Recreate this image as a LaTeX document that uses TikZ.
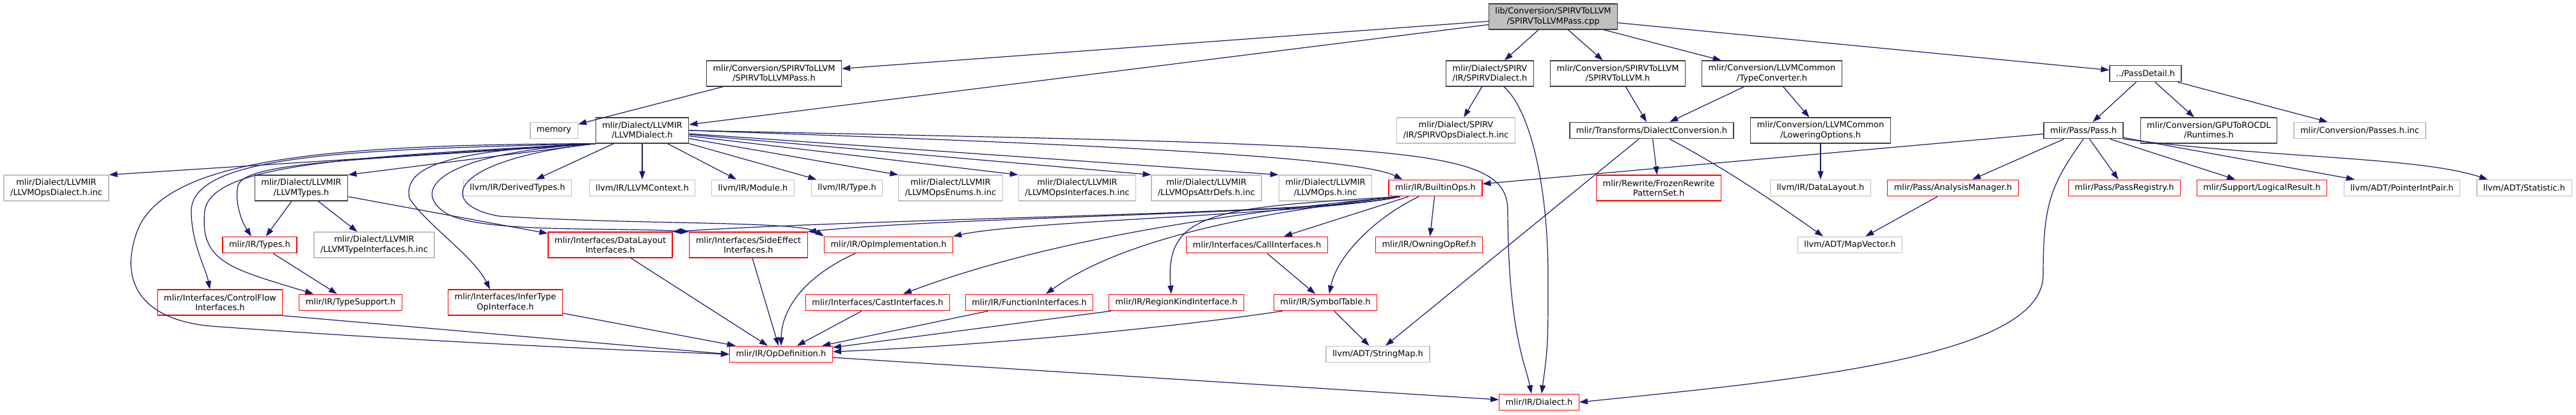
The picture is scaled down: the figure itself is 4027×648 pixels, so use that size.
\documentclass[tikz,border=0pt]{standalone}
\usepackage{fontspec}
\setmainfont{DejaVu Sans}
\usetikzlibrary{arrows.meta, positioning}

\definecolor{edgeblue}{HTML}{191970}
\definecolor{boxgray}{HTML}{BFBFBF}
\definecolor{boxdark}{HTML}{404040}

\begin{document}
\begin{tikzpicture}[x=1pt, y=-1pt,
    box/.style={draw, line width=1.3pt, fill=white, inner xsep=10pt, inner ysep=2pt,
      minimum height=25.5pt, align=center, font=\fontsize{13}{15.3}\selectfont},
    two/.style={minimum height=40pt},
    cur/.style={box, draw=boxdark, fill=boxgray},
    doc/.style={box, draw=boxdark},
    trunc/.style={box, draw=red},
    ext/.style={box, draw=boxgray},
    dep/.style={draw=edgeblue, line width=1.2pt, -{Triangle[length=13pt,width=9pt]}}]
	\useasboundingbox (0,0) rectangle (4027,648);

	% row 1 and 2
	\node[cur,two] (root) at (2428,26) {lib/Conversion/SPIRVToLLVM\\/SPIRVToLLVMPass.cpp};
	\node[doc,two] (passh) at (1210,115) {mlir/Conversion/SPIRVToLLVM\\/SPIRVToLLVMPass.h};
	\node[doc,two] (spirvd) at (2329,115) {mlir/Dialect/SPIRV\\/IR/SPIRVDialect.h};
	\node[doc,two] (s2l) at (2529,115) {mlir/Conversion/SPIRVToLLVM\\/SPIRVToLLVM.h};
	\node[doc,two] (typeconv) at (2770,115) {mlir/Conversion/LLVMCommon\\/TypeConverter.h};
	\node[doc] (passdetail) at (3354,115) {../PassDetail.h};

	% row 3
	\node[ext] (memory) at (866,204) {memory};
	\node[doc,two] (llvmd) at (1004,204) {mlir/Dialect/LLVMIR\\/LLVMDialect.h};
	\node[ext,two] (spirvops) at (2276,204) {mlir/Dialect/SPIRV\\/IR/SPIRVOpsDialect.h.inc};
	\node[doc] (dconv) at (2582,204) {mlir/Transforms/DialectConversion.h};
	\node[doc,two] (lowering) at (2846,204) {mlir/Conversion/LLVMCommon\\/LoweringOptions.h};
	\node[doc] (pass) at (3257,204) {mlir/Pass/Pass.h};
	\node[doc,two] (runtimes) at (3453,204) {mlir/Conversion/GPUToROCDL\\/Runtimes.h};
	\node[ext] (passesinc) at (3689,204) {mlir/Conversion/Passes.h.inc};

	% row 4
	\node[ext,two] (opsdialect) at (88,294) {mlir/Dialect/LLVMIR\\/LLVMOpsDialect.h.inc};
	\node[doc,two] (lltypes) at (471,294) {mlir/Dialect/LLVMIR\\/LLVMTypes.h};
	\node[ext] (derived) at (809,294) {llvm/IR/DerivedTypes.h};
	\node[ext] (context) at (1004,294) {llvm/IR/LLVMContext.h};
	\node[ext] (module) at (1177,294) {llvm/IR/Module.h};
	\node[ext] (irtype) at (1324,294) {llvm/IR/Type.h};
	\node[ext,two] (opsenums) at (1486,294) {mlir/Dialect/LLVMIR\\/LLVMOpsEnums.h.inc};
	\node[ext,two] (opsifaces) at (1684,294) {mlir/Dialect/LLVMIR\\/LLVMOpsInterfaces.h.inc};
	\node[ext,two] (opsattr) at (1886,294) {mlir/Dialect/LLVMIR\\/LLVMOpsAttrDefs.h.inc};
	\node[ext,two] (opsinc) at (2072,294) {mlir/Dialect/LLVMIR\\/LLVMOps.h.inc};
	\node[trunc] (builtin) at (2244,294) {mlir/IR/BuiltinOps.h};
	\node[trunc,two] (frozen) at (2593,294) {mlir/Rewrite/FrozenRewrite\\PatternSet.h};
	\node[ext] (layout) at (2846,294) {llvm/IR/DataLayout.h};
	\node[trunc] (analysis) at (3053,294) {mlir/Pass/AnalysisManager.h};
	\node[trunc] (registry) at (3321,294) {mlir/Pass/PassRegistry.h};
	\node[trunc] (logical) at (3536,294) {mlir/Support/LogicalResult.h};
	\node[ext] (ptrint) at (3755,294) {llvm/ADT/PointerIntPair.h};
	\node[ext] (statistic) at (3946,294) {llvm/ADT/Statistic.h};

	% row 5
	\node[trunc] (types) at (406,383) {mlir/IR/Types.h};
	\node[ext,two] (typeifaces) at (585,383) {mlir/Dialect/LLVMIR\\/LLVMTypeInterfaces.h.inc};
	\node[trunc,two] (dlifaces) at (954,383) {mlir/Interfaces/DataLayout\\Interfaces.h};
	\node[trunc,two] (sideeffect) at (1170,383) {mlir/Interfaces/SideEffect\\Interfaces.h};
	\node[trunc] (opimpl) at (1389,383) {mlir/IR/OpImplementation.h};
	\node[trunc] (callifaces) at (1965,383) {mlir/Interfaces/CallInterfaces.h};
	\node[trunc] (owning) at (2234,383) {mlir/IR/OwningOpRef.h};
	\node[ext] (mapvec) at (2892,383) {llvm/ADT/MapVector.h};

	% row 6 to 8
	\node[trunc,two] (cflow) at (344,473) {mlir/Interfaces/ControlFlow\\Interfaces.h};
	\node[trunc] (typesupport) at (548,473) {mlir/IR/TypeSupport.h};
	\node[trunc,two] (infer) at (790,473) {mlir/Interfaces/InferType\\OpInterface.h};
	\node[trunc] (cast) at (1372,473) {mlir/Interfaces/CastInterfaces.h};
	\node[trunc] (funcifaces) at (1609,473) {mlir/IR/FunctionInterfaces.h};
	\node[trunc] (regionkind) at (1839,473) {mlir/IR/RegionKindInterface.h};
	\node[trunc] (symtab) at (2072,473) {mlir/IR/SymbolTable.h};
	\node[trunc] (opdef) at (1221,554) {mlir/IR/OpDefinition.h};
	\node[ext] (stringmap) at (2154,554) {llvm/ADT/StringMap.h};
	\node[trunc] (dialect) at (2406,629) {mlir/IR/Dialect.h};

	% includes of the .cpp
	\draw[dep] (root) -- (passh);
	\draw[dep] (root) -- (llvmd);
	\draw[dep] (root) -- (spirvd);
	\draw[dep] (root) -- (s2l);
	\draw[dep] (root) -- (typeconv);
	\draw[dep] (root) -- (passdetail);
	\draw[dep] (passh) -- (memory);

	% LLVMDialect.h
	\draw[dep] (llvmd.south west) -- (opsdialect.north east);
	\draw[dep] (llvmd.south west) -- (lltypes.north east);
	\draw[dep] (llvmd) -- (derived);
	\draw[dep] (llvmd) -- (context);
	\draw[dep] (llvmd) -- (module);
	\draw[dep] (llvmd) -- (irtype);
	\draw[dep] (llvmd) -- (opsenums.north west);
	\draw[dep] (llvmd) -- (opsifaces.north west);
	\draw[dep] (llvmd) -- (opsattr.north west);
	\draw[dep] (llvmd) -- (opsinc.north west);
	\draw[dep] (llvmd.east) .. controls (1700,225) and (2120,245) .. ([xshift=22pt]builtin.north west);
	\draw[dep] (llvmd.east) .. controls (2200,228) and (2357,225) .. (2357,330) .. controls (2358,520) and (2385,570) .. ([xshift=-12pt]dialect.north);
	\draw[dep] (llvmd.south west) .. controls (600,250) and (385,250) .. (372,290) .. controls (366,320) and (380,350) .. ([xshift=-13pt]types.north);
	\draw[dep] (llvmd.south west) .. controls (560,245) and (330,255) .. (320,330) .. controls (312,410) and (360,420) .. ([xshift=-58pt]typesupport.north);
	\draw[dep] (llvmd.south west) .. controls (560,234) and (300,240) .. (299,330) .. controls (299,380) and (322,420) .. ([xshift=-16pt]cflow.north);
	\draw[dep] (llvmd.south west) .. controls (500,226) and (260,250) .. (215,360) .. controls (185,440) and (220,500) .. (330,510) .. controls (600,530) and (900,545) .. (opdef.west);
	\draw[dep] (llvmd.south west) .. controls (700,235) and (630,260) .. (640,310) .. controls (665,350) and (740,400) .. ([xshift=-24pt]infer.north);
	\draw[dep] (llvmd.south west) .. controls (680,240) and (640,300) .. (700,335) .. controls (760,365) and (950,355) .. (sideeffect.north west);
	\draw[dep] (llvmd.south west) .. controls (700,250) and (680,320) .. (780,338) .. controls (1000,352) and (1250,345) .. (opimpl.north west);

	\draw[dep] (lltypes) -- (types);
	\draw[dep] (lltypes) -- (typeifaces);
	\draw[dep] (lltypes) -- (dlifaces);
	\draw[dep] (types) -- (typesupport);

	% SPIRV and conversion
	\draw[dep] (spirvd) -- (spirvops);
	\draw[dep] ([xshift=22pt]spirvd.south) .. controls (2395,175) and (2420,300) .. (2420,430) .. controls (2420,540) .. ([xshift=4pt]dialect.north);
	\draw[dep] (s2l) -- (dconv);
	\draw[dep] (typeconv) -- (dconv);
	\draw[dep] (typeconv) -- (lowering);
	\draw[dep] (dconv) -- (frozen);
	\draw[dep] ([xshift=28pt]dconv.south) .. controls (2700,265) and (2780,320) .. ([xshift=-42pt]mapvec.north);
	\draw[dep] ([xshift=-20pt]dconv.south) -- ([xshift=12pt]stringmap.north);
	\draw[dep] (lowering) -- (layout);

	% Pass
	\draw[dep] (passdetail) -- (pass);
	\draw[dep] (passdetail) -- (runtimes);
	\draw[dep] (passdetail) -- (passesinc);
	\draw[dep] (pass) -- (builtin);
	\draw[dep] (pass) -- (analysis);
	\draw[dep] (pass) -- (registry);
	\draw[dep] (pass) -- (logical);
	\draw[dep] (pass) -- (ptrint);
	\draw[dep] (pass.south east) .. controls (3560,248) and (3780,245) .. ([xshift=-57pt]statistic.north);
	\draw[dep] (pass.south) .. controls (3205,290) and (3194,320) .. (3194,430) .. controls (3194,560) and (2800,595) .. (dialect.east);
	\draw[dep] (analysis) -- (mapvec);

	% BuiltinOps.h
	\draw[dep] ([xshift=18pt]builtin.south west) .. controls (2080,335) and (1400,340) .. (dlifaces.north east);
	\draw[dep] ([xshift=18pt]builtin.south west) .. controls (2080,335) and (1500,338) .. (sideeffect.north east);
	\draw[dep] ([xshift=18pt]builtin.south west) .. controls (2060,335) and (1600,345) .. (opimpl.north east);
	\draw[dep] ([xshift=18pt]builtin.south west) .. controls (1950,330) and (1650,370) .. ([xshift=40pt]cast.north);
	\draw[dep] ([xshift=18pt]builtin.south west) .. controls (1980,330) and (1760,370) .. ([xshift=26pt]funcifaces.north);
	\draw[dep] ([xshift=18pt]builtin.south west) .. controls (1900,325) and (1820,330) .. ([xshift=-8pt]regionkind.north);
	\draw[dep] (builtin) -- (callifaces);
	\draw[dep] ([xshift=-26pt]builtin.south) .. controls (2150,340) and (2090,400) .. ([xshift=6pt]symtab.north);
	\draw[dep] (builtin) -- (owning);

	\draw[dep] (callifaces) -- (symtab);
	\draw[dep] (symtab) -- (stringmap);
	\draw[dep] ([xshift=14pt]symtab.south west) .. controls (1850,510) and (1550,540) .. ([yshift=4pt]opdef.east);
	\draw[dep] (regionkind) -- (opdef);
	\draw[dep] (funcifaces) -- (opdef);
	\draw[dep] (cast) -- (opdef);
	\draw[dep] ([xshift=-52pt]opimpl.south) .. controls (1262,430) and (1222,480) .. (opdef.north);
	\draw[dep] (sideeffect) -- (opdef);
	\draw[dep] (dlifaces) -- (opdef);
	\draw[dep] (infer) -- (opdef);
	\draw[dep] (cflow.south east) -- (opdef.west);
	\draw[dep] (opdef) -- (dialect);
\end{tikzpicture}
\end{document}
